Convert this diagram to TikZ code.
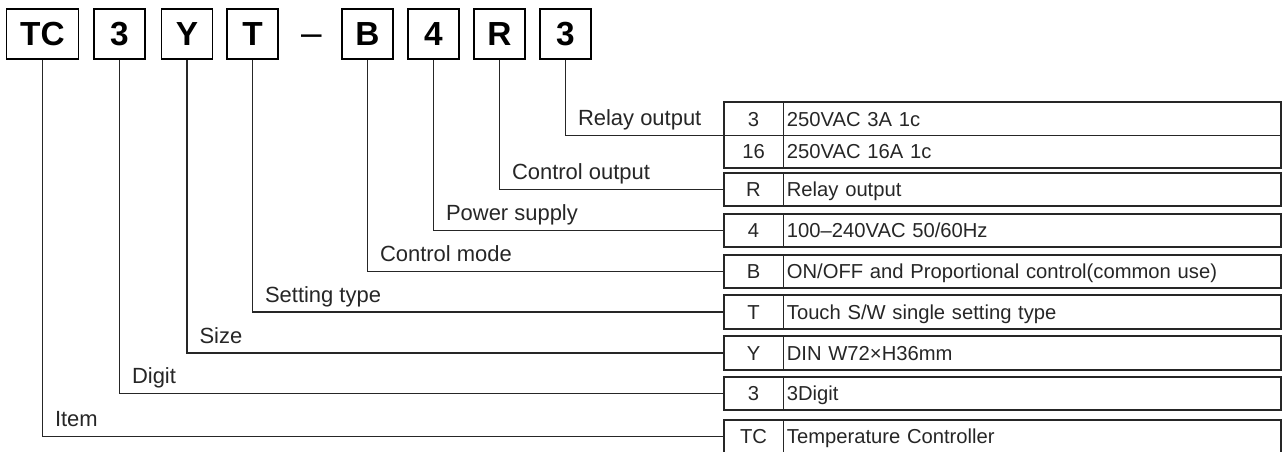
\documentclass[tikz,border=0pt]{standalone}
\usepackage{fontspec}
\setmainfont{Liberation Sans}
\usetikzlibrary{positioning}

\begin{document}
\begin{tikzpicture}[
    font=\fontsize{11.5}{13}\selectfont,
    key/.style={draw, line width=1pt, minimum width=1.02cm, minimum height=1cm, inner sep=0pt, font=\fontsize{19}{22}\selectfont\bfseries},
    link/.style={draw=black!85, line width=0.6pt},
    lbl/.style={anchor=base west, xshift=0.24cm, yshift=0.2cm, inner sep=0pt, text=black!85, font=\fontsize{12.5}{15}\selectfont},
    cell/.style={draw=black!85, line width=0.5pt, minimum height=0.645cm, inner sep=0pt, text height=0.29cm, text depth=0cm, text=black!85},
    codecell/.style={cell, minimum width=1.18cm},
    desccell/.style={cell, text width=9.82cm, inner xsep=0.06cm, align=left},
    frame/.style={draw=black!85, line width=1.1pt}
]
\useasboundingbox (0,0) rectangle (25.64,-9.02);

% ================= TOP: ORDERING CODE =================
\node[key, minimum width=1.44cm] (kItem) at (0.85, -0.68) {TC};
\node[key] (kDigit) at (2.39, -0.68) {3};
\node[key] (kSize) at (3.74, -0.68) {Y};
\node[key] (kSet) at (5.05, -0.68) {T};
\node[font=\fontsize{21}{24}\selectfont] (dash) at (6.23, -0.80) {–};
\node[key] (kMode) at (7.35, -0.68) {B};
\node[key] (kPower) at (8.67, -0.68) {4};
\node[key] (kOut) at (9.99, -0.68) {R};
\node[key] (kRelay) at (11.31, -0.68) {3};

% ================= RIGHT: CODE TABLES =================
% Relay output (two rows)
\node[codecell] (cRelayA) at (15.07, -2.38) {3};
\node[desccell, right=0pt of cRelayA] (dRelayA) {250VAC 3A 1c};
\node[codecell] (cRelayB) at (15.07, -3.025) {16};
\node[desccell, right=0pt of cRelayB] (dRelayB) {250VAC 16A 1c};
\draw[frame] (cRelayA.north west) rectangle (dRelayB.south east);

% Control output
\node[codecell] (cOut) at (15.07, -3.79) {R};
\node[desccell, right=0pt of cOut] (dOut) {Relay output};
\draw[frame] (cOut.north west) rectangle (dOut.south east);

% Power supply
\node[codecell] (cPower) at (15.07, -4.61) {4};
\node[desccell, right=0pt of cPower] (dPower) {100–240VAC 50/60Hz};
\draw[frame] (cPower.north west) rectangle (dPower.south east);

% Control mode
\node[codecell] (cMode) at (15.07, -5.43) {B};
\node[desccell, right=0pt of cMode] (dMode) {ON/OFF and Proportional control(common use)};
\draw[frame] (cMode.north west) rectangle (dMode.south east);

% Setting type
\node[codecell] (cSet) at (15.07, -6.24) {T};
\node[desccell, right=0pt of cSet] (dSet) {Touch S/W single setting type};
\draw[frame] (cSet.north west) rectangle (dSet.south east);

% Size
\node[codecell] (cSize) at (15.07, -7.06) {Y};
\node[desccell, right=0pt of cSize] (dSize) {DIN W72×H36mm};
\draw[frame] (cSize.north west) rectangle (dSize.south east);

% Digit
\node[codecell] (cDigit) at (15.07, -7.87) {3};
\node[desccell, right=0pt of cDigit] (dDigit) {3Digit};
\draw[frame] (cDigit.north west) rectangle (dDigit.south east);

% Item
\node[codecell] (cItem) at (15.07, -8.73) {TC};
\node[desccell, right=0pt of cItem] (dItem) {Temperature Controller};
\draw[frame] (cItem.north west) rectangle (dItem.south east);

% ================= CONNECTIONS =================
\draw[link] (kRelay.south) |- (cRelayA.south west) node[lbl, pos=0.5] {Relay output};
\draw[link] (kOut.south) |- (cOut.west) node[lbl, pos=0.5] {Control output};
\draw[link] (kPower.south) |- (cPower.west) node[lbl, pos=0.5] {Power supply};
\draw[link] (kMode.south) |- (cMode.west) node[lbl, pos=0.5] {Control mode};
\draw[link] (kSet.south) |- (cSet.west) node[lbl, pos=0.5] {Setting type};
\draw[link] (kSize.south) |- (cSize.west) node[lbl, pos=0.5] {Size};
\draw[link] (kDigit.south) |- (cDigit.west) node[lbl, pos=0.5] {Digit};
\draw[link] (kItem.south) |- (cItem.west) node[lbl, pos=0.5] {Item};

\end{tikzpicture}
\end{document}
